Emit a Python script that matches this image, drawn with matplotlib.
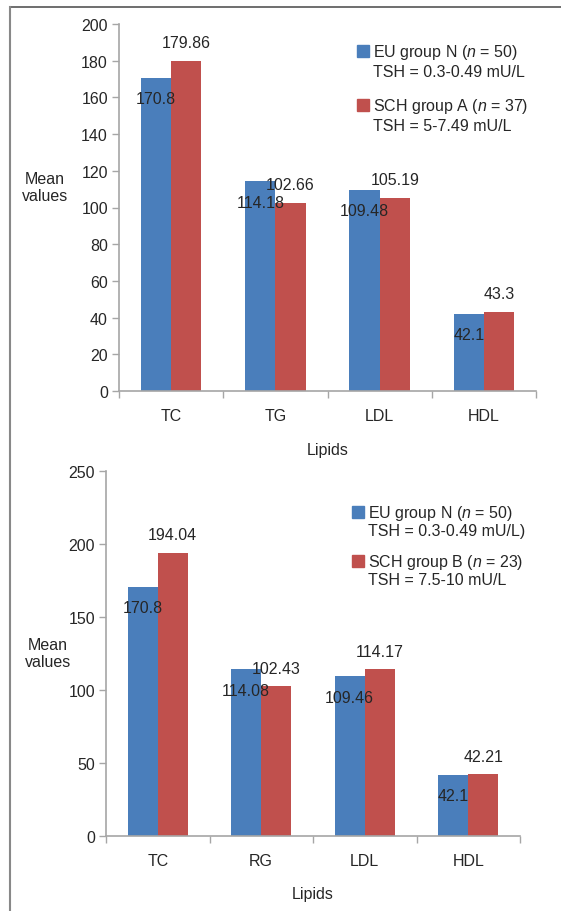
import matplotlib
matplotlib.use('Agg')
import matplotlib.pyplot as plt
from matplotlib.patches import Rectangle
from matplotlib.lines import Line2D

plt.rcParams['font.family'] = ['Liberation Sans', 'DejaVu Sans']
plt.rcParams['mathtext.fontset'] = 'custom'
plt.rcParams['mathtext.rm'] = 'Liberation Sans'
plt.rcParams['mathtext.it'] = 'Liberation Sans:italic'

# Lipid means, euthyroid vs subclinical hypothyroid groups
lipidos_a = ['TC', 'TG', 'LDL', 'HDL']
eu_a = [170.8, 114.18, 109.48, 42.1]
sch_a = [179.86, 102.66, 105.19, 43.3]

lipidos_b = ['TC', 'RG', 'LDL', 'HDL']
eu_b = [170.8, 114.08, 109.46, 42.1]
sch_b = [194.04, 102.43, 114.17, 42.21]

legenda_a = ['EU group N ($n$ = 50)\nTSH = 0.3-0.49 mU/L',
             'SCH group A ($n$ = 37)\nTSH = 5-7.49 mU/L']
legenda_b = ['EU group N ($n$ = 50)\nTSH = 0.3-0.49 mU/L)',
             'SCH group B ($n$ = 23)\nTSH = 7.5-10 mU/L']

AZUL = '#4A7EBB'
VERMELHO = '#C0504D'
EIXO = '#A6A6A6'
TEXTO = '#262626'
FS = 11.5

W, H = 561, 912
fig = plt.figure(figsize=(W / 100, H / 100), dpi=100)


def fx(x):
    return x / W


def fy(y):
    return 1 - y / H


def painel(rect, cats, eu, sch, ymax, passo, legenda, leg_xy, leg_passo, leg_ls,
           ylab_xy, xlab_y):
    x0, y0, x1, y1 = rect
    ax = fig.add_axes([fx(x0), fy(y1), (x1 - x0) / W, (y1 - y0) / H])
    pos = list(range(len(cats)))
    larg = 0.29
    ax.bar([p - larg / 2 for p in pos], eu, larg, color=AZUL)
    ax.bar([p + larg / 2 for p in pos], sch, larg, color=VERMELHO)

    # rótulos: azul dentro da barra, vermelho acima
    for p, v in zip(pos, eu):
        ax.annotate(f'{v:g}', (p - larg / 2, v), xytext=(0, -15), textcoords='offset points',
                    ha='center', va='center', fontsize=FS, color=TEXTO)
    for p, v in zip(pos, sch):
        ax.annotate(f'{v:g}', (p + larg / 2, v), xytext=(0, 13), textcoords='offset points',
                    ha='center', va='center', fontsize=FS, color=TEXTO)

    ax.set_xlim(-0.5, len(cats) - 0.5)
    ax.set_ylim(0, ymax)
    ax.set_yticks(range(0, ymax + 1, passo))
    ax.set_xticks(pos)
    ax.set_xticklabels(cats)
    ax.set_xticks([p - 0.5 for p in range(len(cats) + 1)], minor=True)
    ax.tick_params(axis='x', which='major', length=0, pad=12, labelsize=FS, labelcolor=TEXTO)
    ax.tick_params(axis='x', which='minor', length=5, width=1, color=EIXO, direction='out')
    ax.tick_params(axis='y', length=5, width=1, color=EIXO, pad=3, labelsize=FS, labelcolor=TEXTO)
    for s in ['top', 'right']:
        ax.spines[s].set_visible(False)
    for s in ['left', 'bottom']:
        ax.spines[s].set_color(EIXO)
        ax.spines[s].set_linewidth(1.2)

    # legenda desenhada à mão, quadrado alinhado com a primeira linha
    lx, ly = leg_xy
    for i, (txt, cor) in enumerate(zip(legenda, [AZUL, VERMELHO])):
        yy = ly + i * leg_passo
        fig.patches.append(Rectangle((fx(lx), fy(yy + 6)), 12 / W, 12 / H,
                                     transform=fig.transFigure, color=cor))
        fig.text(fx(lx + 16), fy(yy - 9), txt, ha='left', va='top', fontsize=FS,
                 color=TEXTO, linespacing=leg_ls)

    fig.text(fx(ylab_xy[0]), fy(ylab_xy[1]), 'Mean\nvalues', ha='center', va='center',
             fontsize=FS, color=TEXTO, linespacing=1.15)
    fig.text(fx((x0 + x1) / 2), fy(xlab_y), 'Lipids', ha='center', va='center',
             fontsize=FS, color=TEXTO)
    return ax


painel((119, 25, 536, 392), lipidos_a, eu_a, sch_a, 200, 20, legenda_a,
       (357, 52), 54, 1.22, (45, 188), 450)
painel((106, 472, 520, 837), lipidos_b, eu_b, sch_b, 250, 50, legenda_b,
       (352, 513), 49, 1.1, (48, 654), 895)

# moldura
fig.add_artist(Line2D([fx(10), fx(561)], [fy(8), fy(8)], color='#555555', lw=1.2,
                      transform=fig.transFigure))
fig.add_artist(Line2D([fx(10), fx(10)], [fy(8), fy(912)], color='#888888', lw=1.5,
                      transform=fig.transFigure))

fig.savefig('out.png', dpi=100)
